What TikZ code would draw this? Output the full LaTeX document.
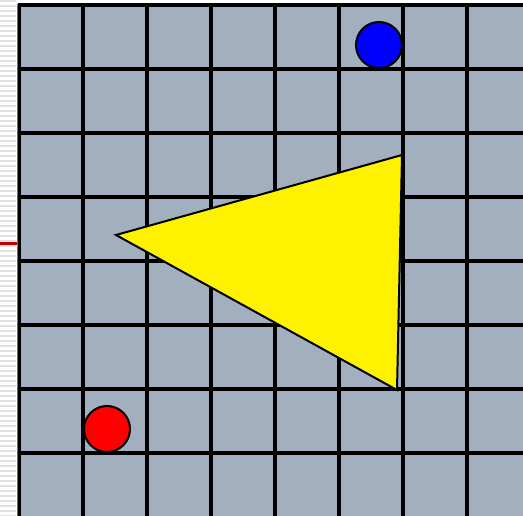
\documentclass[tikz,border=0pt]{standalone}
\usepackage{tikz}
\definecolor{BoardGrey}{RGB}{161,175,190}
\definecolor{StripeGrey}{RGB}{226,226,226}
\definecolor{EdgeGrey}{RGB}{110,110,110}
\definecolor{MarkRed}{RGB}{190,0,0}
\tikzset{
  gridline/.style={draw=black, line width=3.2pt},
  token/.style={circle, draw=black, line width=2pt, minimum size=46pt, inner sep=0pt},
  piece/.style={draw=black, line width=2pt, line join=miter, fill=yellow},
}

\begin{document}
\begin{tikzpicture}[x=1pt, y=-1pt]
\useasboundingbox (0,0) rectangle (523,516);

% ---------------- striped margin on the left ----------------
\fill[white] (0,0) rectangle (18,516);
\foreach \s in {0,5,...,515}
  \fill[StripeGrey] (0,\s) rectangle (16,\s+2);
\draw[MarkRed, line width=3pt] (0,244) -- (17,244);

% ---------------- board ----------------
\fill[BoardGrey] (18,4) rectangle (523,516);
\foreach \gx in {19,83,...,467}
  \draw[gridline] (\gx,4) -- (\gx,516);
\foreach \gy in {5,69,...,453}
  \draw[gridline] (18,\gy) -- (523,\gy);
\draw[EdgeGrey, line width=1pt] (17,4) -- (17,516);

% ---------------- pieces ----------------
\draw[piece] (116,235) -- (402,155) -- (397,390) -- cycle;
\node[token, fill=blue] (bluepiece) at (379,45) {};
\node[token, fill=red] (redpiece) at (107,429) {};

\end{tikzpicture}
\end{document}
